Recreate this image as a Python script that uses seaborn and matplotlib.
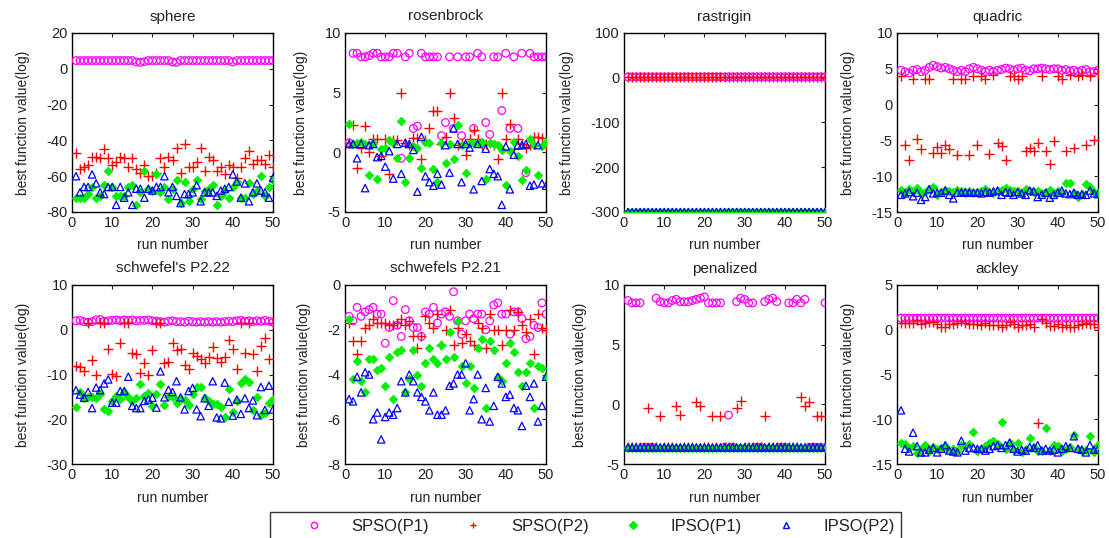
import numpy as np
import matplotlib.pyplot as plt
import seaborn as sns
from matplotlib.lines import Line2D

sns.set_style('white')
plt.rcParams['font.family'] = ['Liberation Sans', 'DejaVu Sans']
plt.rcParams['axes.unicode_minus'] = False

runs = np.arange(1, 51)

# sphere
sphere_spso1 = [4.6, 4.6, 4.6, 4.6, 4.6, 4.6, 4.6, 4.6, 4.6, 4.6,
                4.6, 4.6, 4.6, 4.6, 4.6, 3.8, 3.6, 4.0, 4.6, 4.6,
                4.6, 4.6, 4.6, 4.6, 3.8, 3.6, 4.6, 4.6, 4.6, 4.6,
                4.6, 4.6, 4.6, 4.6, 4.6, 4.6, 4.6, 4.6, 4.6, 3.8,
                4.6, 4.6, 4.6, 4.6, 4.6, 4.6, 4.6, 4.6, 4.6, 4.6]
sphere_spso2 = [-47, -56, -55, -54, -49, -49, -50, -45, -50, -54,
                -52, -49, -50, -55, -50, -56, -58, -54, -60, -60,
                -58, -50, -55, -49, -51, -44, -58, -42, -55, -55,
                -52, -44, -57, -49, -51, -57, -55, -59, -54, -55,
                -61, -55, -50, -46, -53, -51, -51, -53, -48, -55]
sphere_ipso1 = [-72, -72, -72, -70, -66, -72, -71, -65, -57, -66,
                -71, -71, -71, -66, -65, -76, -69, -57, -67, -68,
                -59, -69, -66, -73, -67, -62, -75, -63, -74, -67,
                -62, -73, -68, -67, -65, -76, -71, -68, -72, -66,
                -63, -72, -72, -64, -70, -68, -60, -71, -66, -62]
sphere_ipso2 = [-60, -69, -66, -66, -59, -64, -69, -70, -66, -66,
                -76, -66, -72, -69, -76, -67, -67, -72, -67, -68,
                -66, -66, -60, -69, -66, -71, -75, -70, -70, -69,
                -65, -74, -69, -69, -69, -71, -68, -67, -66, -59,
                -63, -72, -64, -74, -69, -64, -68, -69, -72, -61]

# rosenbrock
rosen_spso1 = [0.8, 8.3, 8.3, 8.0, 8.0, 8.1, 8.3, 8.3, 8.0, 8.0,
               8.0, 8.3, 8.3, -0.5, 8.0, 8.3, 2.0, 2.2, 8.3, 8.0,
               8.0, 8.0, 8.0, 1.4, 2.5, 8.0, 2.0, 8.0, 1.4, 8.0,
               8.0, 2.0, 8.3, 8.0, 2.5, 1.5, 8.0, 8.0, 3.5, 8.3,
               2.0, 8.0, 2.0, 8.3, -1.7, 8.3, 8.0, 8.0, 8.0, 8.0]
rosen_spso2 = [0.8, 2.3, -1.3, 0.4, 2.2, 0.0, 1.1, 1.1, -0.3, 1.1,
               -1.8, 1.0, 1.0, 5.0, 0.8, 0.6, 1.2, 1.2, -0.6, 1.0,
               2.0, 3.5, 3.5, 0.7, 1.3, 5.0, 2.9, 0.6, 0.8, -0.2,
               1.1, 1.9, 1.1, 0.6, 0.7, 0.8, 0.6, -0.6, 5.0, 1.1,
               2.4, 0.3, 1.1, 0.7, 0.4, 0.6, 1.3, 1.3, 1.2, 0.5]
rosen_ipso1 = [2.4, 0.7, 0.8, 0.9, 0.7, -1.9, 0.8, -2.2, 0.3, 0.4,
               1.0, 0.8, -0.5, 2.6, -2.5, -0.5, 0.5, 0.4, -1.3, 0.9,
               0.8, -1.4, -2.5, 0.8, -0.9, 0.7, -0.6, 2.3, 0.6, -1.7,
               0.8, 0.8, 0.8, 0.9, -2.2, 0.8, 0.7, 0.6, 0.2, -2.7,
               0.1, 0.9, -0.3, -2.3, -1.5, 1.1, 0.6, -1.9, 0.5, 0.9]
rosen_ipso2 = [0.7, 0.7, -0.5, 0.7, -3.0, 0.6, 0.7, -0.4, -0.3, -1.2,
               0.1, -2.2, 0.7, -1.8, 0.8, 0.7, 0.2, -3.3, 1.3, -2.0,
               -2.5, -2.8, -1.8, -2.7, 0.6, -1.7, 2.0, 0.7, -2.5, 0.7,
               0.4, -3.1, 0.7, -2.4, 0.3, -1.4, -1.8, -2.0, -4.4, 0.5,
               -3.1, -0.2, 0.6, 0.6, 0.7, -2.8, -2.7, 0.6, -2.6, -2.8]

# rastrigin
rastr_spso1 = [2, 2, 2, 2, 2, 2, 2, 2, 2, 2,
               2, 2, 2, 2, 2, 2, 2, 2, 2, 2,
               2, 2, 2, 2, 2, 2, 2, 2, 2, 2,
               2, 2, 2, 2, 2, 2, 2, 2, 2, 2,
               2, 2, 2, 2, 2, 2, 2, 2, 2, 2]
rastr_spso2 = [1, 1, 1, 1, 1, 1, 1, 1, 1, 1,
               1, 1, 1, 1, 1, 1, 1, 1, 1, 1,
               1, 1, 1, 1, 1, 1, 1, 1, 1, 1,
               1, 1, 1, 1, 1, 1, 1, 1, 1, 1,
               1, 1, 1, 1, 1, 1, 1, 1, 1, 1]
rastr_ipso1 = [-300, -300, -300, -300, -300, -300, -300, -300, -300, -300,
               -300, -300, -300, -300, -300, -300, -300, -300, -300, -300,
               -300, -300, -300, -300, -300, -300, -300, -300, -300, -300,
               -300, -300, -300, -300, -300, -300, -300, -300, -300, -300,
               -300, -300, -300, -300, -300, -300, -300, -300, -300, -300]
rastr_ipso2 = [-300, -300, -300, -300, -300, -300, -300, -300, -300, -300,
               -300, -300, -300, -300, -300, -300, -300, -300, -300, -300,
               -300, -300, -300, -300, -300, -300, -300, -300, -300, -300,
               -300, -300, -300, -300, -300, -300, -300, -300, -300, -300,
               -300, -300, -300, -300, -300, -300, -300, -300, -300, -300]

# quadric
quad_spso1 = [4.8, 4.6, 4.4, 4.8, 4.9, 4.6, 4.8, 5.2, 5.5, 5.3,
              5.1, 5.2, 5.0, 4.8, 4.6, 4.8, 4.6, 5.0, 5.2, 5.0,
              4.8, 4.6, 4.8, 4.6, 4.8, 4.9, 5.1, 5.0, 4.8, 5.0,
              5.1, 4.8, 4.7, 5.0, 5.0, 5.1, 5.0, 4.9, 5.0, 5.0,
              4.8, 4.9, 4.7, 4.8, 4.6, 4.8, 4.9, 4.6, 4.6, 4.8]
quad_spso2 = [4.0, -5.6, -7.7, 3.6, -4.8, -6.2, 3.6, 3.6, -6.7, -5.9,
              -6.7, -5.6, -6.2, 3.6, -7.1, 3.6, 3.6, -7.1, 4.0, -5.6,
              4.0, 3.6, -6.9, 4.2, -5.3, -5.8, -7.7, 4.0, 4.0, 3.6,
              4.0, -6.5, -6.1, -6.5, -5.3, 4.0, -6.5, -8.3, -5.1, 4.0,
              3.6, -6.5, 4.2, -6.1, 4.0, 4.2, -5.6, 4.0, -5.0, 4.4]
quad_ipso1 = [-11.9, -12.2, -11.8, -12.0, -11.7, -12.4, -12.2, -11.8, -11.5, -12.6,
              -12.2, -11.9, -12.1, -12.2, -11.9, -12.0, -12.4, -12.1, -12.3, -12.2,
              -12.0, -11.8, -12.2, -12.3, -12.0, -11.9, -11.6, -11.9, -12.1, -12.0,
              -12.3, -11.8, -12.0, -12.2, -12.1, -12.4, -12.2, -11.9, -12.3, -12.0,
              -12.4, -10.9, -11.0, -12.3, -12.9, -12.5, -11.1, -11.5, -12.2, -12.3]
quad_ipso2 = [-12.6, -12.4, -12.2, -12.8, -12.3, -13.3, -12.9, -11.8, -12.4, -12.3,
              -12.3, -12.0, -12.6, -13.1, -12.3, -12.3, -12.2, -12.3, -12.3, -12.3,
              -12.4, -12.2, -12.3, -12.1, -12.0, -12.6, -12.2, -12.3, -12.6, -12.2,
              -12.4, -12.6, -12.0, -12.1, -12.9, -12.6, -12.3, -13.0, -12.6, -12.3,
              -12.0, -12.4, -12.5, -12.3, -12.6, -12.5, -12.6, -12.0, -12.4, -12.5]

# schwefel's P2.22
s222_spso1 = [2.0, 2.1, 1.8, 1.7, 1.8, 2.2, 2.3, 1.9, 2.0, 2.1,
              2.2, 2.0, 2.2, 2.1, 2.2, 2.0, 2.1, 2.1, 2.2, 2.0,
              1.9, 1.8, 1.7, 1.9, 2.0, 1.8, 1.8, 1.7, 1.9, 1.8,
              1.7, 1.8, 1.7, 1.8, 1.7, 1.8, 1.7, 1.8, 1.9, 1.8,
              2.0, 2.1, 1.9, 2.0, 1.8, 2.0, 1.9, 2.1, 1.9, 1.7]
s222_spso2 = [-8.1, -8.3, -9.2, 1.4, -6.8, -10.2, 1.4, 1.4, -4.2, -9.8,
              -10.3, -3.0, 1.4, 1.4, -5.2, -5.4, -9.6, -7.5, -10.2, -4.5,
              1.4, 1.4, -7.5, -7.2, -3.0, -4.5, -4.3, -7.8, -8.8, -5.1,
              -5.8, -6.5, -7.4, -6.0, -3.9, -6.3, -7.2, -6.2, -2.3, -4.2,
              -8.7, 1.4, -5.2, 1.4, -5.4, -9.2, -3.6, -1.9, -6.5, 1.4]
s222_ipso1 = [-17.3, -14.0, -15.2, -15.0, -15.0, -15.2, -14.4, -17.8, -18.2, -16.0,
              -14.9, -15.4, -13.9, -15.0, -16.0, -15.2, -12.1, -14.8, -14.2, -17.1,
              -14.3, -12.1, -16.8, -15.0, -15.0, -16.4, -15.5, -15.8, -16.8, -14.3,
              -12.7, -12.8, -15.2, -16.0, -16.7, -16.6, -17.2, -19.5, -13.3, -18.4,
              -16.0, -11.8, -10.9, -11.6, -18.0, -15.0, -19.0, -18.5, -16.3, -15.5]
s222_ipso2 = [-13.5, -14.5, -15.2, -13.9, -17.5, -12.9, -13.5, -12.0, -11.1, -16.3,
              -16.3, -13.7, -13.7, -10.5, -17.0, -17.5, -17.5, -15.9, -15.6, -15.2,
              -17.4, -9.3, -15.1, -13.4, -13.9, -11.5, -15.1, -17.8, -13.7, -13.0,
              -17.8, -19.3, -15.3, -17.0, -11.5, -19.6, -19.8, -11.8, -16.1, -19.2,
              -15.6, -18.8, -15.3, -17.5, -15.8, -19.1, -12.8, -17.9, -12.5, -17.8]

# schwefels P2.21
s221_spso1 = [-1.4, -1.6, -1.0, -1.4, -1.2, -1.1, -1.0, -1.3, -1.3, -2.6,
              -1.9, -0.7, -1.8, -2.3, -1.1, -1.6, -1.9, -1.9, -2.3, -1.2,
              -1.3, -1.0, -1.7, -1.3, -1.2, -1.4, -0.3, -1.6, -2.2, -1.6,
              -1.3, -1.5, -1.3, -1.3, -2.0, -1.6, -0.9, -0.8, -1.3, -1.3,
              -2.2, -1.2, -1.2, -1.5, -2.4, -2.3, -1.8, -1.9, -0.8, -1.3]
s221_spso2 = [-1.7, -2.5, -3.1, -2.5, -1.9, -1.8, -1.5, -1.7, -1.7, -1.7,
              -1.8, -1.8, -1.7, -1.5, -1.8, -1.6, -2.3, -2.8, -2.3, -1.4,
              -1.7, -1.9, -1.3, -2.7, -2.0, -1.1, -2.7, -1.9, -2.6, -2.2,
              -2.5, -2.7, -1.7, -1.9, -2.8, -1.3, -2.0, -2.0, -2.7, -2.0,
              -1.1, -2.0, -1.2, -1.8, -2.1, -1.5, -3.1, -1.3, -1.9, -2.0]
s221_ipso1 = [-1.5, -4.2, -3.4, -4.3, -4.8, -3.3, -3.3, -3.8, -3.7, -4.5,
              -3.2, -5.1, -3.0, -2.9, -4.8, -4.2, -2.9, -4.0, -4.5, -3.5,
              -2.8, -3.3, -3.5, -2.7, -3.3, -2.1, -3.2, -1.6, -3.6, -4.4,
              -3.6, -4.6, -2.8, -2.4, -5.5, -2.5, -2.9, -4.1, -4.3, -3.5,
              -2.6, -3.0, -3.9, -4.5, -3.9, -3.5, -5.5, -3.6, -3.7, -4.1]
s221_ipso2 = [-5.1, -5.2, -4.1, -4.8, -3.9, -4.0, -6.0, -5.7, -6.9, -5.9,
              -5.7, -5.8, -5.5, -4.3, -4.8, -4.0, -4.3, -4.8, -5.0, -5.2,
              -5.6, -4.8, -5.8, -5.8, -5.6, -4.5, -4.4, -4.0, -4.0, -3.5,
              -5.6, -5.1, -4.0, -6.0, -4.6, -6.1, -5.4, -4.1, -4.4, -5.0,
              -4.9, -5.5, -5.6, -6.3, -4.5, -5.0, -4.4, -6.1, -5.4, -4.1]

# penalized
pen_spso1 = [8.7, 8.5, 8.5, 8.5, -3.6, -3.6, -3.6, 8.9, 8.6, 8.5,
             8.5, 8.7, 8.8, 8.6, 8.6, 8.6, 8.7, 8.8, 8.9, 9.0,
             8.5, 8.5, 8.5, 8.5, -3.6, -0.9, -3.6, 8.6, 8.9, 8.8,
             8.5, 8.5, -3.6, -3.6, 8.6, 8.8, 8.9, 8.6, -3.6, -3.6,
             8.5, 8.5, 8.8, 8.5, 8.8, -3.6, -3.6, -3.6, -3.6, 8.5]
pen_spso2 = [-3.6, -3.6, -3.6, -3.6, -3.6, -0.3, -3.6, -3.6, -1.0, -3.6,
             -3.6, -3.6, -0.1, -0.9, -3.6, -3.6, -3.6, 0.2, -0.1, -3.6,
             -3.6, -1.0, -3.6, -1.0, -3.6, -3.6, -3.6, -0.3, 0.3, -3.6,
             -3.6, -3.6, -3.6, -3.6, -1.0, -3.6, -3.6, -3.6, -3.6, -3.6,
             -3.6, -3.6, -3.6, 0.6, -0.1, 0.2, -3.6, -1.0, -1.0, -3.6]
pen_ipso1 = [-3.7, -3.7, -3.7, -3.7, -3.7, -3.7, -3.7, -3.7, -3.7, -3.7,
             -3.7, -3.7, -3.7, -3.7, -3.7, -3.7, -3.7, -3.7, -3.7, -3.7,
             -3.7, -3.7, -3.7, -3.7, -3.7, -3.7, -3.7, -3.7, -3.7, -3.7,
             -3.7, -3.7, -3.7, -3.7, -3.7, -3.7, -3.7, -3.7, -3.7, -3.7,
             -3.7, -3.7, -3.7, -3.7, -3.7, -3.7, -3.7, -3.7, -3.7, -3.7]
pen_ipso2 = [-3.6, -3.6, -3.6, -3.6, -3.6, -3.6, -3.6, -3.6, -3.6, -3.6,
             -3.6, -3.6, -3.6, -3.6, -3.6, -3.6, -3.6, -3.6, -3.6, -3.6,
             -3.6, -3.6, -3.6, -3.6, -3.6, -3.6, -3.6, -3.6, -3.6, -3.6,
             -3.6, -3.6, -3.6, -3.6, -3.6, -3.6, -3.6, -3.6, -3.6, -3.6,
             -3.6, -3.6, -3.6, -3.6, -3.6, -3.6, -3.6, -3.6, -3.6, -3.6]

# ackley
ack_spso1 = [1.3, 1.3, 1.3, 1.3, 1.3, 1.3, 1.3, 1.3, 1.3, 1.3,
             1.3, 1.3, 1.3, 1.3, 1.3, 1.3, 1.3, 1.3, 1.3, 1.3,
             1.3, 1.3, 1.3, 1.3, 1.3, 1.3, 1.3, 1.3, 1.3, 1.3,
             1.3, 1.3, 1.3, 1.3, 1.3, 1.3, 1.3, 1.3, 1.3, 1.3,
             1.3, 1.3, 1.3, 1.3, 1.3, 1.3, 1.3, 1.3, 1.3, 1.3]
ack_spso2 = [0.8, 0.7, 0.7, 0.7, 1.1, 0.6, 0.7, 0.9, 0.9, 0.6,
             0.3, 0.3, 0.6, 0.6, 0.7, 1.0, 0.7, 0.6, 0.6, 0.6,
             0.5, 0.7, 0.5, 0.5, 0.5, 0.3, 0.5, 0.9, 0.6, 0.3,
             0.5, 0.5, 0.6, 0.3, -10.4, 1.2, 0.8, 0.4, 0.4, 0.6,
             0.3, 0.5, 0.3, 0.3, 0.5, 0.6, 0.7, 0.6, 0.6, 0.3]
ack_ipso1 = [-12.7, -12.8, -13.2, -13.0, -13.8, -13.3, -12.9, -13.6, -13.1, -13.3,
             -13.2, -13.0, -13.4, -13.3, -13.5, -12.9, -13.0, -12.8, -11.4, -13.6,
             -13.3, -13.0, -12.6, -12.4, -12.8, -10.3, -13.3, -12.7, -13.4, -12.7,
             -13.7, -13.3, -12.1, -13.1, -13.5, -13.6, -11.0, -13.5, -12.9, -13.0,
             -13.6, -13.3, -13.1, -11.8, -13.3, -13.6, -13.4, -11.9, -13.7, -12.9]
ack_ipso2 = [-9.0, -13.3, -13.6, -11.5, -13.0, -13.7, -13.7, -13.4, -13.2, -13.7,
             -13.3, -12.9, -13.5, -13.6, -13.7, -12.4, -13.5, -13.2, -13.2, -13.3,
             -13.3, -13.5, -13.3, -13.0, -12.9, -13.2, -12.9, -12.6, -13.3, -13.6,
             -13.4, -13.5, -13.1, -13.2, -12.9, -13.5, -13.3, -13.5, -13.4, -13.7,
             -13.3, -13.0, -13.2, -11.9, -13.3, -13.4, -13.7, -12.9, -13.4, -13.3]

titles = ['sphere', 'rosenbrock', 'rastrigin', 'quadric',
          "schwefel's P2.22", 'schwefels P2.21', 'penalized', 'ackley']
series_labels = ['SPSO(P1)', 'SPSO(P2)', 'IPSO(P1)', 'IPSO(P2)']
panel_data = [
    (sphere_spso1, sphere_spso2, sphere_ipso1, sphere_ipso2),
    (rosen_spso1, rosen_spso2, rosen_ipso1, rosen_ipso2),
    (rastr_spso1, rastr_spso2, rastr_ipso1, rastr_ipso2),
    (quad_spso1, quad_spso2, quad_ipso1, quad_ipso2),
    (s222_spso1, s222_spso2, s222_ipso1, s222_ipso2),
    (s221_spso1, s221_spso2, s221_ipso1, s221_ipso2),
    (pen_spso1, pen_spso2, pen_ipso1, pen_ipso2),
    (ack_spso1, ack_spso2, ack_ipso1, ack_ipso2),
]
y_ranges = [(-80, 20, 20), (-5, 10, 5), (-300, 100, 100), (-15, 10, 5),
            (-30, 10, 10), (-8, 0, 2), (-5, 10, 5), (-15, 5, 5)]

# marker styles: (marker, face, edge, size)
styles = [
    ('o', 'none', '#ff00ff', 30),
    ('+', '#ff0000', '#ff0000', 45),
    ('D', '#00ee00', '#00ee00', 16),
    ('^', 'none', '#0000ff', 28),
]

W, H = 1109, 538
fig, axes = plt.subplots(2, 4, figsize=(W / 100, H / 100), dpi=100)
lefts = [72, 345, 624, 897]
tops = [33, 285]
aw, ah = 201, 179
text_c = '#222222'

for i, ax in enumerate(axes.flat):
    r, c = divmod(i, 4)
    ax.set_position([lefts[c] / W, 1 - (tops[r] + ah) / H, aw / W, ah / H])
    for vals, (mk, fc, ec, s) in zip(panel_data[i], styles):
        if mk == '+':
            sns.scatterplot(x=runs, y=vals, ax=ax, marker='+', color=ec, s=s,
                            linewidth=1.0, zorder=3)
        else:
            sns.scatterplot(x=runs, y=vals, ax=ax, marker=mk, s=s,
                            facecolor=fc, edgecolor=ec, linewidth=0.9, zorder=3)
    lo, hi, step = y_ranges[i]
    ax.set_xlim(0, 50)
    ax.set_ylim(lo, hi)
    ax.set_xticks(np.arange(0, 51, 10))
    ax.set_yticks(np.arange(lo, hi + step / 2, step))
    ax.set_title(titles[i], fontsize=11, color=text_c, pad=9)
    ax.set_xlabel('run number', fontsize=10, color=text_c, labelpad=6)
    ax.set_ylabel('best function value(log)', fontsize=10, color=text_c, labelpad=12)
    ax.tick_params(direction='in', length=3, width=0.8, top=True, right=True,
                   labelsize=10.5, colors=text_c, pad=3)
    for sp in ax.spines.values():
        sp.set_visible(True)
        sp.set_color('black')
        sp.set_linewidth(1.0)

handles = []
for (mk, fc, ec, s), lab in zip(styles, series_labels):
    handles.append(Line2D([], [], linestyle='none', marker=mk,
                          markerfacecolor=fc, markeredgecolor=ec,
                          markersize=4.5 if mk != 'D' else 4, markeredgewidth=1))
leg = fig.legend(handles, series_labels, loc='upper left', ncol=4,
                 bbox_to_anchor=(270 / W, 1 - 512 / H),
                 fontsize=12, frameon=True, fancybox=False, edgecolor='black',
                 handlelength=4.5, handletextpad=0.0, columnspacing=0.4,
                 borderpad=0.4, borderaxespad=0)
leg.get_frame().set_linewidth(1.0)
for t in leg.get_texts():
    t.set_color(text_c)

fig.savefig('out.png', dpi=100)
